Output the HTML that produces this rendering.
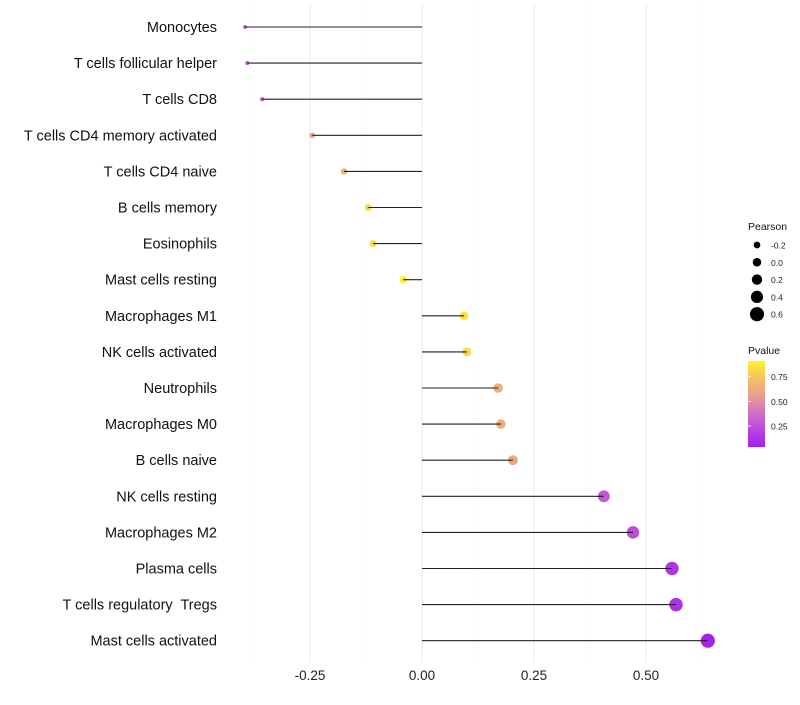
<!DOCTYPE html>
<html><head><meta charset="utf-8"><style>
body{margin:0;background:#fff;font-family:"Liberation Sans",sans-serif}
text{white-space:pre}
</style></head><body>
<svg id="c" width="800" height="700" xmlns="http://www.w3.org/2000/svg">
<defs><linearGradient id="pg" x1="0" y1="1" x2="0" y2="0">
<stop offset="0" stop-color="#a020f0"/><stop offset="0.35" stop-color="#cc66cc"/><stop offset="0.6" stop-color="#e8a090"/><stop offset="0.8" stop-color="#f5c060"/><stop offset="1" stop-color="#fff230"/></linearGradient></defs>
<g id="grid"></g><g id="dots"></g><g id="marks"></g><g id="axes"></g>
<g id="legend"></g>
</svg>
<script>
const categories=["Monocytes","T cells follicular helper","T cells CD8","T cells CD4 memory activated","T cells CD4 naive","B cells memory","Eosinophils","Mast cells resting","Macrophages M1","NK cells activated","Neutrophils","Macrophages M0","B cells naive","NK cells resting","Macrophages M2","Plasma cells","T cells regulatory  Tregs","Mast cells activated"];
const pearson=[-0.395,-0.39,-0.357,-0.245,-0.174,-0.12,-0.109,-0.042,0.094,0.100,0.170,0.176,0.203,0.406,0.471,0.558,0.567,0.638];
const pvalue=[0.3,0.3,0.33,0.55,0.66,0.8,0.82,0.92,0.85,0.82,0.64,0.64,0.6,0.28,0.23,0.13,0.11,0.05];
const xTicks=[-0.25,0,0.25,0.5];
const xTickLabels=["-0.25","0.00","0.25","0.50"];
const sizeLegend=[-0.2,0,0.2,0.4,0.6];
const pTicks=[0.25,0.5,0.75];
const NS="http://www.w3.org/2000/svg";
const x=v=>422+v*448, y=i=>27+i*36.1, r=v=>2+(v+0.4)*4.9;
const pMin=0.036,pMax=0.91, py=p=>447-(p-pMin)/(pMax-pMin)*86;
const stops=[[0,[160,32,240]],[0.35,[204,102,204]],[0.6,[232,160,144]],[0.8,[245,192,96]],[1,[255,242,48]]];
function col(p){let t=Math.max(0,Math.min(1,(p-pMin)/(pMax-pMin)));for(let k=1;k<stops.length;k++){if(t<=stops[k][0]){const a=stops[k-1],b=stops[k],f=(t-a[0])/(b[0]-a[0]);return "rgb("+a[1].map((c,j)=>Math.round(c+(b[1][j]-c)*f)).join(",")+")";}}return "rgb(255,242,48)";}
function mk(g,tag,at,txt){const e=document.createElementNS(NS,tag);for(const k in at)e.setAttribute(k,at[k]);if(txt!=null)e.textContent=txt;document.getElementById(g).appendChild(e);return e;}
for(let v=-0.375;v<=0.66;v+=0.125){const maj=Math.abs((v*4)%1)<1e-6;const e=mk("grid","line",{x1:x(v),x2:x(v),y1:5,y2:662,stroke:maj?"#ebebeb":"#f4f4f4","stroke-width":maj?1:0.6});

}
categories.forEach((c,i)=>{
const d=mk("dots","circle",{cx:x(pearson[i]),cy:y(i),r:r(pearson[i]),fill:col(pvalue[i])});


const l=mk("marks","line",{x1:x(0),x2:x(pearson[i]),y1:y(i),y2:y(i),stroke:"#222","stroke-width":1.1});


const t=mk("axes","text",{x:217,y:y(i)+5,"text-anchor":"end","font-size":14.5,fill:"#111"},c);


});
xTicks.forEach((v,i)=>{const t=mk("axes","text",{x:x(v),y:680,"text-anchor":"middle","font-size":13.5,fill:"#222"},xTickLabels[i]);

});
let t=mk("legend","text",{x:748,y:230,"font-size":10.5,fill:"#111"},"Pearson");


sizeLegend.forEach((v,i)=>{const cy=245+i*17.3;
const c=mk("legend","circle",{cx:757,cy:cy,r:r(v)*0.95+0.5,fill:"#000"});


const tt=mk("legend","text",{x:771,y:cy+3.5,"font-size":8.5,fill:"#222"},v.toFixed(1));

});
t=mk("legend","text",{x:748,y:354,"font-size":10.5,fill:"#111"},"Pvalue");


const bar=mk("legend","rect",{x:748,y:361,width:17,height:86,fill:"url(#pg)"});


pTicks.forEach(p=>{
const l=mk("legend","line",{x1:748,x2:751,y1:py(p),y2:py(p),stroke:"#fff","stroke-width":0.8});


const tt=mk("legend","text",{x:771,y:py(p)+3.5,"font-size":8.5,fill:"#222"},p.toFixed(2));

});
</script>
</body></html>
